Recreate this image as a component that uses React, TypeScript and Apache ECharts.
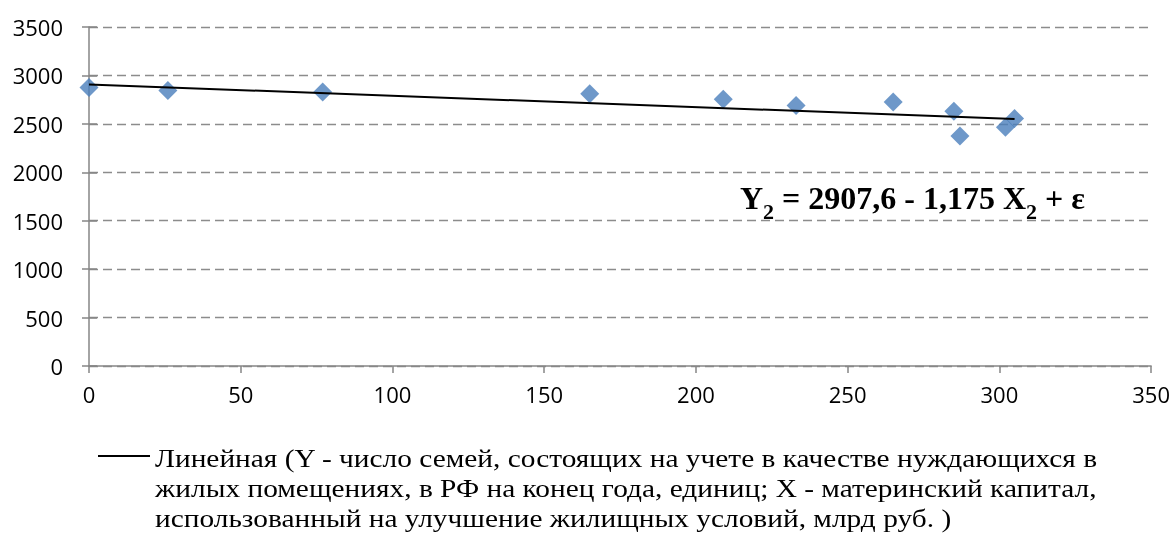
import React, { useEffect, useRef } from "react";
import * as echarts from "echarts";

// Data
const xValues: number[] = [0, 26, 77, 165, 209, 233, 265, 285, 287, 305, 302];
const yValues: number[] = [2875, 2845, 2830, 2810, 2755, 2690, 2725, 2630, 2375, 2555, 2465];

// Trendline coefficients (from the equation shown on the chart)
const trendIntercept = 2907.6;
const trendSlope = -1.175;

const xTicks = { min: 0, max: 350, interval: 50 };
const yTicks = { min: 0, max: 3500, interval: 500 };

const legendLines: string[] = [
  "Линейная (Y - число семей, состоящих на учете в качестве нуждающихся в",
  "жилых помещениях, в РФ на конец года, единиц; X - материнский капитал,",
  "использованный на улучшение жилищных условий, млрд руб. )",
];

export default function App() {
  const ref = useRef<HTMLDivElement>(null);

  useEffect(() => {
    if (!ref.current) return;
    const chart = echarts.init(ref.current, undefined, { renderer: "svg" });

    const points = xValues.map((x, i) => [x, yValues[i]]);
    const xMax = Math.max(...xValues);
    const trend = [
      [0, trendIntercept + trendSlope * 0],
      [xMax, trendIntercept + trendSlope * xMax],
    ];

    const axisLabelFont = {
      fontFamily: "Open Sans",
      fontSize: 22,
      color: "#000",
      formatter: (v: number) => String(v),
    };

    chart.setOption({
      animation: false,
      grid: { left: 89, right: 16, top: 27, bottom: 169, containLabel: false },
      xAxis: {
        type: "value",
        min: xTicks.min,
        max: xTicks.max,
        interval: xTicks.interval,
        axisLine: { show: true, onZero: false, lineStyle: { color: "#868686", width: 1.5 } },
        axisTick: { show: true, length: 7, lineStyle: { color: "#868686", width: 1.5 } },
        splitLine: { show: false },
        axisLabel: { ...axisLabelFont, margin: 17 },
      },
      yAxis: [
        {
          type: "value",
          min: yTicks.min,
          max: yTicks.max,
          interval: yTicks.interval,
          axisLine: { show: true, lineStyle: { color: "#868686", width: 1.5 } },
          axisTick: { show: true, length: 7, lineStyle: { color: "#868686", width: 1.5 } },
          splitLine: {
            show: true,
            lineStyle: { color: "#8c8c8c", width: 1.3, type: [9, 5] },
          },
          axisLabel: { ...axisLabelFont, margin: 26 },
        },
        {
          type: "value",
          position: "left",
          min: yTicks.min,
          max: yTicks.max,
          interval: yTicks.interval,
          axisLine: { show: false },
          axisTick: { show: true, inside: true, length: 8, lineStyle: { color: "#868686", width: 1.5 } },
          splitLine: { show: false },
          axisLabel: { show: false },
        },
      ],
      series: [
        {
          name: "Данные",
          type: "scatter",
          yAxisIndex: 0,
          symbol: "diamond",
          symbolSize: 19,
          itemStyle: { color: "#4A7EBB" },
          data: points,
          z: 3,
        },
        {
          name: legendLines.join(" "),
          type: "line",
          yAxisIndex: 0,
          data: trend,
          showSymbol: false,
          symbol: "none",
          lineStyle: { color: "#000", width: 2 },
          z: 4,
        },
      ],
      graphic: [
        {
          type: "text",
          left: 740,
          top: 182,
          style: {
            text: "{b|Y}{s|2}{b| = 2907,6 - 1,175 X}{s|2}{b| + ε}",
            rich: {
              b: {
                fontFamily: "Liberation Serif",
                fontWeight: "bold",
                fontSize: 32,
                lineHeight: 34,
                padding: [0, 0, 8, 0],
                fill: "#000",
                verticalAlign: "bottom",
              },
              s: {
                fontFamily: "Liberation Serif",
                fontWeight: "bold",
                fontSize: 22,
                lineHeight: 24,
                fill: "#000",
                verticalAlign: "bottom",
              },
            },
          },
        },
        {
          type: "line",
          shape: { x1: 98, y1: 456, x2: 150, y2: 456 },
          style: { stroke: "#000", lineWidth: 2 },
        },
        {
          type: "text",
          x: 155,
          y: 443,
          scaleX: 1.13,
          style: {
            text: legendLines.join("\n"),
            fontFamily: "Liberation Serif",
            fontSize: 26,
            lineHeight: 30,
            fill: "#000",
          },
        },
      ],
    });

    return () => chart.dispose();
  }, []);

  return (
    <div
      ref={ref}
      style={{ position: "fixed", left: 0, top: 0, width: 1173, height: 535 }}
    />
  );
}
